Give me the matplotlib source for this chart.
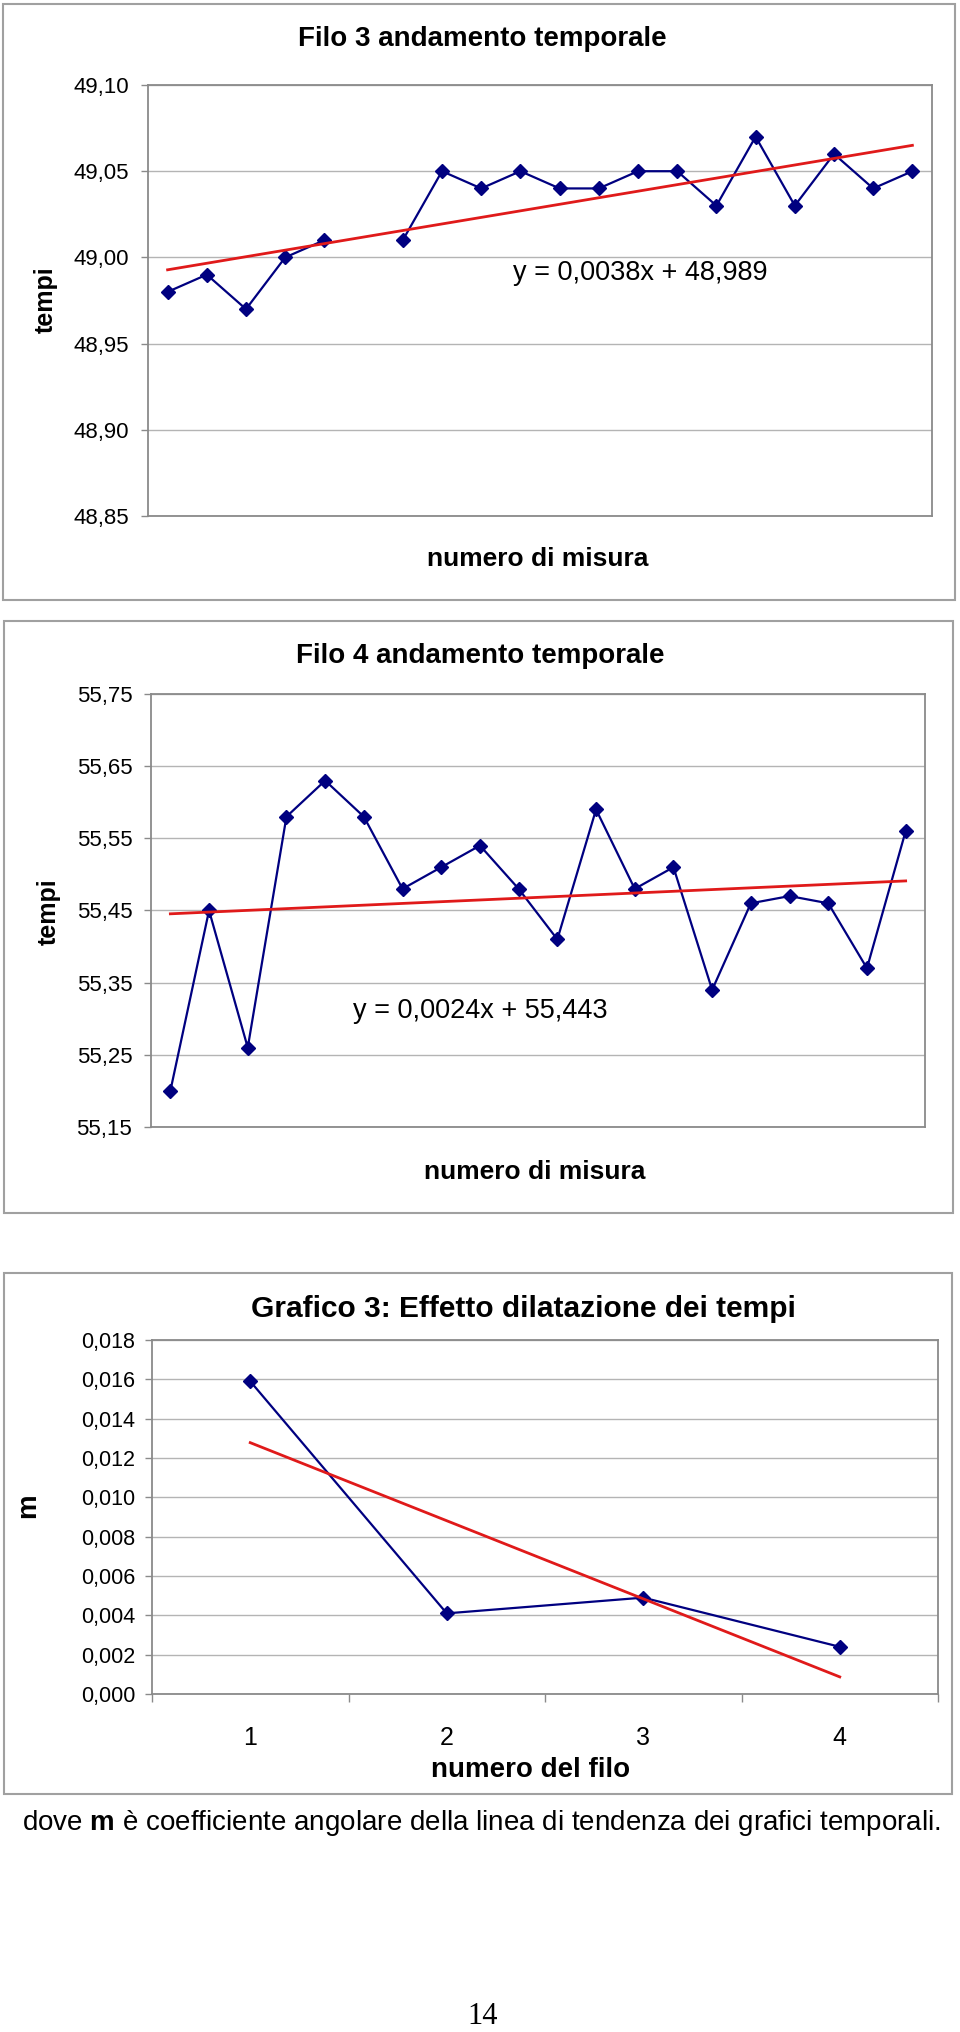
import matplotlib
matplotlib.use("Agg")
import matplotlib.pyplot as plt
from matplotlib.patches import Rectangle
import numpy as np

plt.rcParams['font.family'] = ['Liberation Sans', 'DejaVu Sans']
plt.rcParams['mathtext.fontset'] = 'custom'
plt.rcParams['mathtext.rm'] = 'Liberation Sans'
plt.rcParams['mathtext.bf'] = 'Liberation Sans:bold'

# ---- data ----
# Filo 3: measure 6 is missing
misura = np.arange(1, 21)
tempi_filo3 = [48.98, 48.99, 48.97, 49.00, 49.01, np.nan, 49.01, 49.05, 49.04, 49.05,
               49.04, 49.04, 49.05, 49.05, 49.03, 49.07, 49.03, 49.06, 49.04, 49.05]
slope3, icpt3 = 0.0038, 48.989
yticks3 = [48.85, 48.90, 48.95, 49.00, 49.05, 49.10]

tempi_filo4 = [55.20, 55.45, 55.26, 55.58, 55.63, 55.58, 55.48, 55.51, 55.54, 55.48,
               55.41, 55.59, 55.48, 55.51, 55.34, 55.46, 55.47, 55.46, 55.37, 55.56]
slope4, icpt4 = 0.0024, 55.443
yticks4 = [55.15, 55.25, 55.35, 55.45, 55.55, 55.65, 55.75]

filo = [1, 2, 3, 4]
m_vals = [0.0159, 0.0041, 0.0049, 0.0024]
yticks_m = [0.000, 0.002, 0.004, 0.006, 0.008, 0.010, 0.012, 0.014, 0.016, 0.018]

navy = '#000080'
red = '#e01a1a'
grid_c = '#b4b4b4'
spine_c = '#8a8a8a'

W, H = 960, 2032
fig = plt.figure(figsize=(W / 100, H / 100), dpi=100)


def fx(x):
    return x / W


def fy(y):
    return 1 - y / H


def px_axes(l, t, r, b):
    return fig.add_axes([l / W, 1 - b / H, (r - l) / W, (b - t) / H])


def box(l, t, r, b):
    fig.add_artist(Rectangle((l / W, 1 - b / H), (r - l) / W, (b - t) / H,
                             transform=fig.transFigure, fill=False,
                             ec='#a0a0a0', lw=1.5))


def style(ax, ticks, fmt, size, pad):
    for s in ax.spines.values():
        s.set_color(spine_c)
        s.set_linewidth(1.3)
    ax.set_yticks(ticks)
    ax.set_yticklabels([fmt.format(v).replace('.', ',') for v in ticks])
    ax.set_ylim(ticks[0], ticks[-1])
    ax.tick_params(axis='y', direction='out', length=5, width=1,
                   color=spine_c, pad=pad, labelsize=size)
    ax.yaxis.grid(True, color=grid_c, lw=1)
    ax.set_axisbelow(True)


line_kw = dict(color=navy, lw=1.6, marker='D', ms=7.5)
trend_kw = dict(color=red, lw=2)

# ---- chart 1: Filo 3 ----
box(3, 4, 955, 600)
ax1 = px_axes(148, 85, 932, 516)
style(ax1, yticks3, '{:.2f}', 16, 8.5)
ax1.set_xlim(0.5, 20.5)
ax1.tick_params(axis='x', bottom=False, labelbottom=False)
ax1.plot(misura, tempi_filo3, **line_kw)
xt = np.array([1, 20])
ax1.plot(xt, slope3 * xt + icpt3, **trend_kw)
fig.text(fx(482), fy(39), 'Filo 3 andamento temporale', ha='center', va='center',
         fontsize=20, fontweight='bold')
fig.text(fx(640), fy(273), f'y = {slope3}x + {icpt3}'.replace('.', ','),
         ha='center', va='center', fontsize=19.5)
fig.text(fx(538), fy(559), 'numero di misura', ha='center', va='center',
         fontsize=19, fontweight='bold')
fig.text(fx(46), fy(300), 'tempi', ha='center', va='center', rotation=90,
         fontsize=18, fontweight='bold')

# ---- chart 2: Filo 4 ----
box(4, 621, 953, 1213)
ax2 = px_axes(151, 694, 925, 1127)
style(ax2, yticks4, '{:.2f}', 16, 8.5)
ax2.set_xlim(0.5, 20.5)
ax2.tick_params(axis='x', bottom=False, labelbottom=False)
ax2.plot(misura, tempi_filo4, **line_kw)
ax2.plot(xt, slope4 * xt + icpt4, **trend_kw)
fig.text(fx(480), fy(656), 'Filo 4 andamento temporale', ha='center', va='center',
         fontsize=20, fontweight='bold')
fig.text(fx(480), fy(1011), f'y = {slope4}x + {icpt4}'.replace('.', ','),
         ha='center', va='center', fontsize=19.5)
fig.text(fx(535), fy(1172), 'numero di misura', ha='center', va='center',
         fontsize=19, fontweight='bold')
fig.text(fx(49), fy(912), 'tempi', ha='center', va='center', rotation=90,
         fontsize=18, fontweight='bold')

# ---- chart 3: slopes ----
box(4, 1273, 952, 1794)
ax3 = px_axes(152, 1340, 938, 1694)
style(ax3, yticks_m, '{:.3f}', 15.5, 7)
ax3.set_xlim(0.5, 4.5)
ax3.set_xticks(filo)
ax3.set_xticklabels([str(f) for f in filo])
ax3.set_xticks(np.arange(0.5, 5.0, 1.0), minor=True)
ax3.tick_params(axis='x', which='major', length=0, pad=23, labelsize=18)
ax3.tick_params(axis='x', which='minor', direction='out', length=6, width=1,
                color=spine_c)
ax3.plot(filo, m_vals, **line_kw)
coef = np.polyfit(filo, m_vals, 1)
xf = np.array([1, 4])
ax3.plot(xf, np.polyval(coef, xf), **trend_kw)
fig.text(fx(523), fy(1309), 'Grafico 3: Effetto dilatazione dei tempi',
         ha='center', va='center', fontsize=21.5, fontweight='bold')
fig.text(fx(531), fy(1770), 'numero del filo', ha='center', va='center',
         fontsize=20, fontweight='bold')
fig.text(fx(28), fy(1506), 'm', ha='center', va='center', rotation=90,
         fontsize=20, fontweight='bold')

# caption and page number
fig.text(fx(481), fy(1823),
         r'dove $\mathbf{m}$ è coefficiente angolare della linea di tendenza dei grafici temporali.',
         ha='center', va='center', fontsize=20)
fig.text(fx(483), fy(2016), '14', ha='center', va='center', fontsize=22,
         family='Liberation Serif')

fig.savefig('out.png', dpi=100)
